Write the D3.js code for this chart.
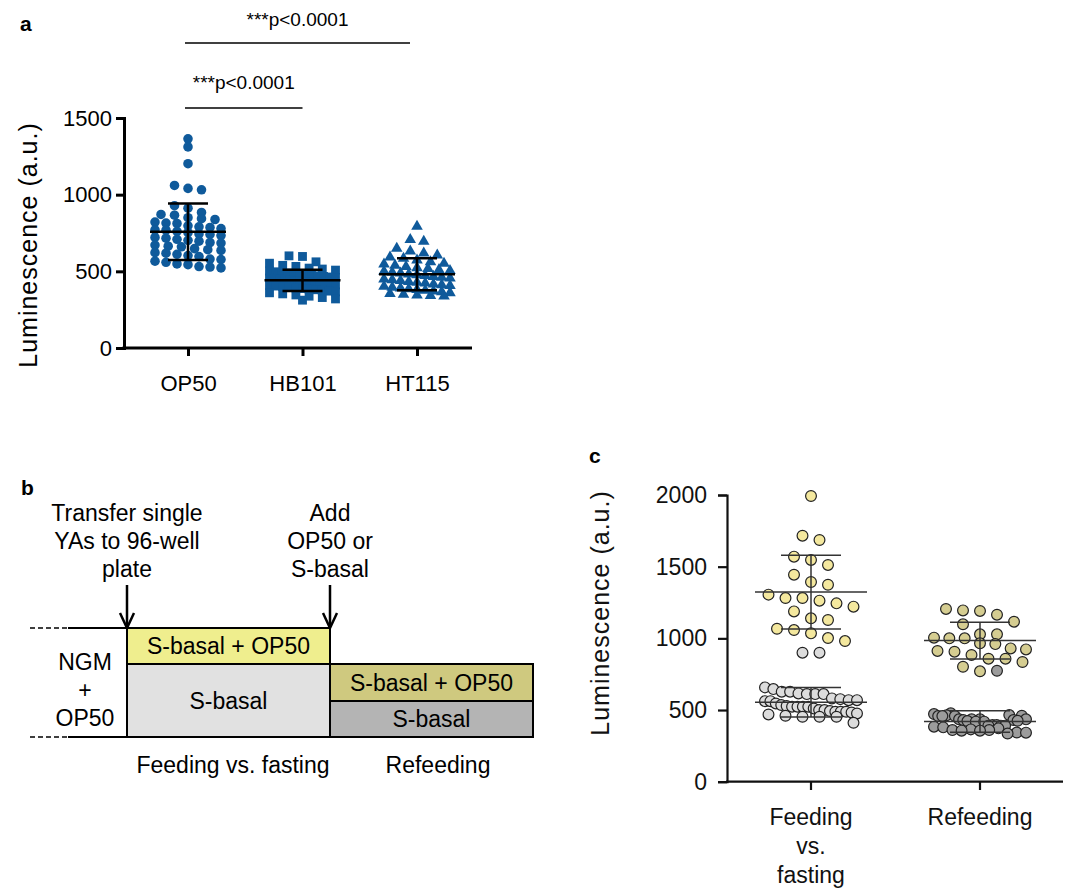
<!DOCTYPE html>
<html>
<head>
<meta charset="utf-8">
<script src="https://cdn.jsdelivr.net/npm/d3@7"></script>
<style>
body{margin:0;background:#fff}
svg{font-family:"Liberation Sans",Arial,Helvetica,sans-serif}
</style>
</head>
<body>
<svg id="fig" width="1072" height="888"></svg>
<script>
// ---------- panel a data (luminescence, a.u.)
var aGroups=["OP50","HB101","HT115"];
var aOP50=[1364,1311,1202,1060,1041,1032,928,
  912,884,871,866,850,843,838,821,815,812,797,790,786,779,771,768,760,752,744,741,733,721,716,709,
  702,697,688,684,671,664,660,648,641,636,622,618,611,603,596,580,577,566,559,548,543,531,528,522];
var aHB101=[601,597,562,553,539,532,521,515,508,502,497,493,489,485,482,478,474,471,467,463,460,456,
  452,449,446,442,439,436,433,429,425,422,419,415,411,408,404,400,396,392,388,384,380,376,371,366,
  360,353,346,338,329,320,312];
var aHT115=[793,706,695,650,631,618,605,592,584,573,561,552,546,538,531,523,517,510,504,499,493,488,
  482,477,471,466,460,455,449,444,439,433,428,423,417,411,406,401,395,390,386,381,376,370,365,360,
  355,350,345,342,338];
var aTicks=[0,500,1000,1500];
var aComparisons=[["OP50","HB101"],["OP50","HT115"]];
var aPLabel="***p<0.0001";

// ---------- panel b labels
var bArrowText=[["Transfer single","YAs to 96-well","plate"],["Add","OP50 or","S-basal"]];
var bLeftText=["NGM","+","OP50"];
var bPhases=["Feeding vs. fasting","Refeeding"];

// ---------- panel c data
var cGroups=["Feeding","Refeeding"];
var cGroupLines=[["Feeding","vs.","fasting"],["Refeeding"]];
var cFeedFed=[1993,1716,1686,1570,1547,1512,1444,1393,1374,1305,1281,1281,1263,1244,1221,1188,1140,
  1128,1067,1058,1035,1002,981];
var cFeedFast=[900,900,658,646,628,628,616,611,611,611,581,576,569,569,562,562,546,535,528,523,523,523,
  523,511,500,500,493,488,488,488,483,476,469,460,453,453,453,411];
var cRefeedFed=[1205,1195,1191,1165,1116,1098,1028,1028,1005,1000,1000,965,960,930,923,912,907,884,
  858,858,835,802,770];
var cRefeedFast=[774,472,458,458,463,477,458,435,430,423,435,419,435,419,391,395,384,395,391,391,379,
  360,356,365,356,360,372,336,343,342,465,430,425,460,435];
var cTicks=[0,500,1000,1500,2000];

var font='"Liberation Sans",Arial,Helvetica,sans-serif';
var svg=d3.select("#fig");

// rows of points spread sideways, like a scatter dot plot
function swarm(items,y,cx,binH,dx,maxHalf){
  var pts=items.map((d,i)=>Object.assign({i:i,y:y(d.v)},d)).sort((a,b)=>a.y-b.y);
  var rows=[],cur=null;
  pts.forEach(p=>{
    if(!cur||p.y-cur.y0>binH){cur={y0:p.y,items:[]};rows.push(cur)}
    cur.items.push(p)
  })
  rows.forEach(r=>{
    var n=r.items.length;
    var step=n>1?Math.min(dx,2*maxHalf/(n-1)):0;
    r.items.sort((a,b)=>a.i-b.i).forEach((p,k)=>{p.x=cx+(k-(n-1)/2)*step})
  })
  return pts
}

function meanSd(g,vals,x,y,half,cap,sw,col){
  var m=d3.mean(vals),s=d3.deviation(vals);
  g.append("line").attr("x1",x-half).attr("x2",x+half).attr("y1",y(m)).attr("y2",y(m));
  g.append("line").attr("x1",x).attr("x2",x).attr("y1",y(m+s)).attr("y2",y(m-s));
  g.append("line").attr("x1",x-cap).attr("x2",x+cap).attr("y1",y(m+s)).attr("y2",y(m+s));
  g.append("line").attr("x1",x-cap).attr("x2",x+cap).attr("y1",y(m-s)).attr("y2",y(m-s));
  g.selectAll("line").attr("stroke",col).attr("stroke-width",sw);
}

// ================= panel a
var gA=svg.append("g");
var yA=d3.scaleLinear().domain([0,1500]).range([348,118]);
var xA=d3.scalePoint().domain(aGroups).range([188,417]);
var aData={OP50:aOP50,HB101:aHB101,HT115:aHT115};
var aShape={OP50:d3.symbolCircle,HB101:d3.symbolSquare,HT115:d3.symbolTriangle};
var aSize={OP50:72,HB101:78,HT115:58};

gA.append("text").text("a").attr("x",20).attr("y",31).attr("font-size",21).attr("font-weight","bold");

gA.append("g").attr("transform","translate(124,0)")
  .call(d3.axisLeft(yA).tickValues(aTicks).tickSize(8).tickPadding(4).tickFormat(d3.format("d")))
  .attr("font-size",22).attr("font-family",font)
  .call(g=>{g.selectAll("path,line").attr("stroke","#000").attr("stroke-width",3);
    g.selectAll("text").attr("fill","#000")});

gA.append("line").attr("x1",122.5).attr("x2",472).attr("y1",348).attr("y2",348)
  .attr("stroke","#000").attr("stroke-width",3);
gA.append("g").attr("transform","translate(0,348)")
  .call(d3.axisBottom(xA).tickSize(8).tickPadding(19))
  .attr("font-size",22).attr("font-family",font)
  .call(g=>{g.select(".domain").remove();
    g.selectAll("line").attr("stroke","#000").attr("stroke-width",3);
    g.selectAll("text").attr("fill","#000")});

gA.append("text").text("Luminescence (a.u.)")
  .attr("transform","translate(37,245) rotate(-90)")
  .attr("text-anchor","middle").attr("font-size",25).attr("letter-spacing",1);

aGroups.forEach(k=>{
  var pts=swarm(aData[k].map(v=>({v:v})),yA,xA(k),7,13.5,33);
  gA.append("g").selectAll("path").data(pts).enter().append("path")
    .attr("d",d3.symbol().type(aShape[k]).size(aSize[k]))
    .attr("transform",d=>"translate("+d.x+","+d.y+")")
    .attr("fill","#0f5a9b");
  meanSd(gA.append("g"),aData[k],xA(k),yA,38,20,2.5,"#000");
})

// significance bars
var sigY=[108,43],sigTextY=[89,26];
aComparisons.forEach((c,i)=>{
  var x1=xA(c[0])-3,x2=xA(c[1])-(i?7:0);
  gA.append("line").attr("x1",x1).attr("x2",x2).attr("y1",sigY[i]).attr("y2",sigY[i])
    .attr("stroke","#000").attr("stroke-width",1.6);
  gA.append("text").text(aPLabel).attr("x",(x1+x2)/2).attr("y",sigTextY[i])
    .attr("text-anchor","middle").attr("font-size",19);
})

// ================= panel b
var gB=svg.append("g").attr("font-size",23);
gB.append("text").text("b").attr("x",21).attr("y",495).attr("font-size",21).attr("font-weight","bold");

var bx=[127,330,533],yTop=628,yMid=664,yBot=737,yRMid=701;
var boxes=[
  {x0:bx[0],x1:bx[1],y0:yTop,y1:yMid,fill:"#efee8e",label:"S-basal + OP50"},
  {x0:bx[0],x1:bx[1],y0:yMid,y1:yBot,fill:"#e1e1e1",label:"S-basal"},
  {x0:bx[1],x1:bx[2],y0:yMid,y1:yRMid,fill:"#cfc97f",label:"S-basal + OP50"},
  {x0:bx[1],x1:bx[2],y0:yRMid,y1:yBot,fill:"#b4b4b4",label:"S-basal"}
];
gB.selectAll("rect").data(boxes).enter().append("rect")
  .attr("x",d=>d.x0).attr("y",d=>d.y0).attr("width",d=>d.x1-d.x0).attr("height",d=>d.y1-d.y0)
  .attr("fill",d=>d.fill).attr("stroke","#000").attr("stroke-width",2);
gB.selectAll("text.box").data(boxes).enter().append("text").attr("class","box")
  .text(d=>d.label).attr("x",d=>(d.x0+d.x1)/2).attr("y",d=>(d.y0+d.y1)/2+8)
  .attr("text-anchor","middle");

[yTop,yBot].forEach(y=>{
  gB.append("line").attr("x1",30).attr("x2",68).attr("y1",y).attr("y2",y)
    .attr("stroke","#000").attr("stroke-width",1.5).attr("stroke-dasharray","5,3");
  gB.append("line").attr("x1",68).attr("x2",bx[0]).attr("y1",y).attr("y2",y)
    .attr("stroke","#000").attr("stroke-width",2);
})
gB.selectAll("text.left").data(bLeftText).enter().append("text").attr("class","left")
  .text(d=>d).attr("x",85).attr("y",(d,i)=>670+i*28).attr("text-anchor","middle");

bArrowText.forEach((lines,i)=>{
  var x=bx[i];
  lines.forEach((t,j)=>gB.append("text").text(t).attr("x",x).attr("y",521+j*28).attr("text-anchor","middle"));
  gB.append("line").attr("x1",x).attr("x2",x).attr("y1",585).attr("y2",627)
    .attr("stroke","#000").attr("stroke-width",2.5);
  gB.append("path").attr("d","M"+(x-7)+",613L"+x+",628L"+(x+7)+",613")
    .attr("fill","none").attr("stroke","#000").attr("stroke-width",2.5);
})
bPhases.forEach((t,i)=>gB.append("text").text(t).attr("x",[233,438][i]).attr("y",773).attr("text-anchor","middle"));

// ================= panel c
var gC=svg.append("g");
var yC=d3.scaleLinear().domain([0,2000]).range([781.7,495]);
var xC=d3.scalePoint().domain(cGroups).range([811,980]);

gC.append("text").text("c").attr("x",589).attr("y",463).attr("font-size",21).attr("font-weight","bold");

gC.append("g").attr("transform","translate(727,0)")
  .call(d3.axisLeft(yC).tickValues(cTicks).tickSize(9).tickPadding(11).tickFormat(d3.format("d")))
  .attr("font-size",23).attr("font-family",font)
  .call(g=>{g.selectAll("path,line").attr("stroke","#111").attr("stroke-width",2.2);
    g.selectAll("text").attr("fill","#111")});
gC.append("line").attr("x1",726).attr("x2",1063).attr("y1",781.7).attr("y2",781.7)
  .attr("stroke","#111").attr("stroke-width",2.2);
gC.selectAll("line.tk").data(cGroups).enter().append("line").attr("class","tk")
  .attr("x1",d=>xC(d)).attr("x2",d=>xC(d)).attr("y1",781.7).attr("y2",790)
  .attr("stroke","#111").attr("stroke-width",2.2);
cGroupLines.forEach((lines,i)=>{
  lines.forEach((t,j)=>gC.append("text").text(t).attr("x",xC(cGroups[i])).attr("y",825+j*29)
    .attr("text-anchor","middle").attr("font-size",23).attr("fill","#111"));
})
gC.append("text").text("Luminescence (a.u.)")
  .attr("transform","translate(609,613) rotate(-90)")
  .attr("text-anchor","middle").attr("font-size",25).attr("letter-spacing",1).attr("fill","#111");

var cSets=[
  {g:"Feeding",fed:cFeedFed,fast:cFeedFast,cf:"#f4e89e",cs:"#dcdcdc"},
  {g:"Refeeding",fed:cRefeedFed,fast:cRefeedFast,cf:"#d5cd91",cs:"#9c9c9c"}
];
cSets.forEach(s=>{
  var items=s.fed.map(v=>({v:v,c:s.cf})).concat(s.fast.map(v=>({v:v,c:s.cs})));
  var pts=swarm(items,yC,xC(s.g),13,17,46);
  gC.append("g").selectAll("circle").data(pts).enter().append("circle")
    .attr("cx",d=>d.x).attr("cy",d=>d.y).attr("r",5.4)
    .attr("fill",d=>d.c).attr("stroke","#222").attr("stroke-width",1.2);
  meanSd(gC.append("g"),s.fed,xC(s.g),yC,56,30,1.5,"#333");
  meanSd(gC.append("g"),s.fast,xC(s.g),yC,56,30,1.5,"#333");
})
</script>
</body>
</html>
